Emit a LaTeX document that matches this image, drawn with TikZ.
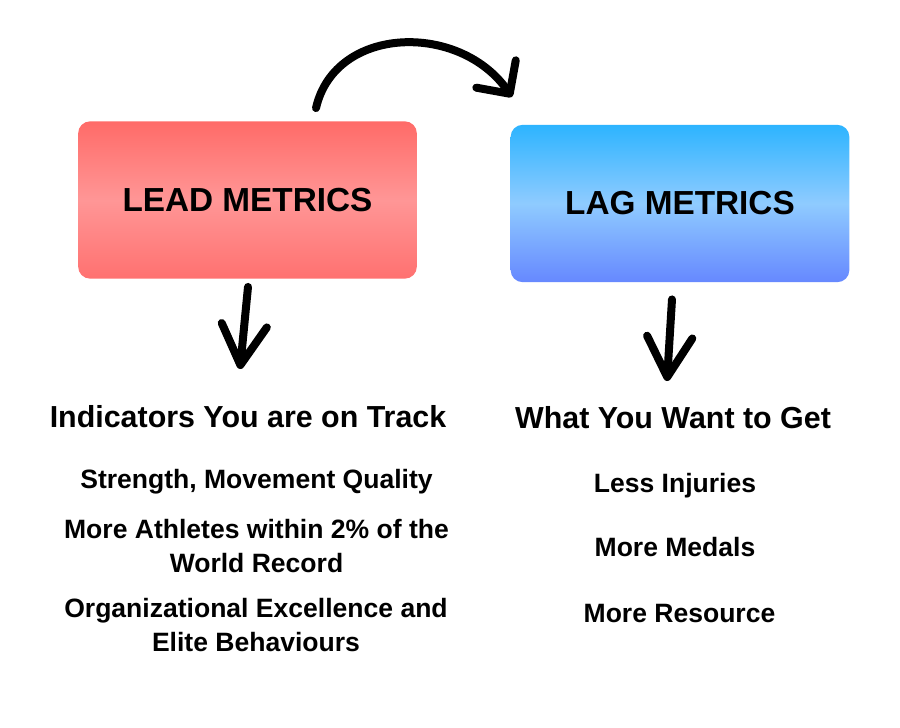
\documentclass[tikz,border=0pt]{standalone}
\usepackage{fontspec}
\setmainfont{Liberation Sans}
\usetikzlibrary{arrows.meta,calc,shapes}

\definecolor{leadtop}{HTML}{FF6B68}
\definecolor{leadmid}{HTML}{FF9696}
\definecolor{leadbot}{HTML}{FF7170}
\definecolor{lagtop}{HTML}{2DB4FF}
\definecolor{lagmid}{HTML}{8FCBFF}
\definecolor{lagbot}{HTML}{6688FF}

\begin{document}
\begin{tikzpicture}[x=0.75pt,y=-0.75pt,
    metric/.style={rounded corners=9pt,minimum width=254pt,minimum height=118pt,inner sep=0pt,
      font=\bfseries\fontsize{25}{30}\selectfont},
    heading/.style={anchor=base,font=\bfseries\fontsize{22.8}{26}\selectfont},
    item/.style={anchor=base,align=center,font=\bfseries\fontsize{19.9}{25.5}\selectfont},
    scribble/.style={line width=6pt,line cap=round,line join=round,
      -{Straight Barb[length=30pt,width=34pt,round]}}]
    \fill[white] (0,0) rectangle (900,728);
    \useasboundingbox (0,0) rectangle (900,728);

    \node (lead) [metric,top color=leadtop,bottom color=leadbot,middle color=leadmid] at (247.5,200) {LEAD METRICS};
    \node (lag) [metric,top color=lagtop,bottom color=lagbot,middle color=lagmid] at (680,203.5) {LAG METRICS};

    \node (leadhd) [heading] at (248,427) {Indicators You are on Track};
    \node (laghd) [heading] at (673,428) {What You Want to Get};

    % two-line items sit on the baseline of their last line
    \node (lead1) [item] at (256.5,488) {Strength, Movement Quality};
    \node (lead2) [item] at (256.5,572) {More Athletes within 2\% of the\\World Record};
    \node (lead3) [item] at (256,651) {Organizational Excellence and\\Elite Behaviours};
    \node (lag1) [item] at (675,492) {Less Injuries};
    \node (lag2) [item] at (675,556) {More Medals};
    \node (lag3) [item] at (679.5,622) {More Resource};

    \coordinate (leadtip) at (240,369);
    \coordinate (lagtip) at (667,381);
    \coordinate (swaptip) at (512,97);
    \draw[scribble] ($(lead.south)+(0.5,8)$) -- (leadtip);
    \draw[scribble] ($(lag.south)+(-8,17)$) -- (lagtip);
    \draw[scribble,-{Straight Barb[length=18pt,width=36pt,round]}] ($(lead.north)+(68.5,-13)$) .. controls (335,25) and (460,22) .. (swaptip);
\end{tikzpicture}
\end{document}
